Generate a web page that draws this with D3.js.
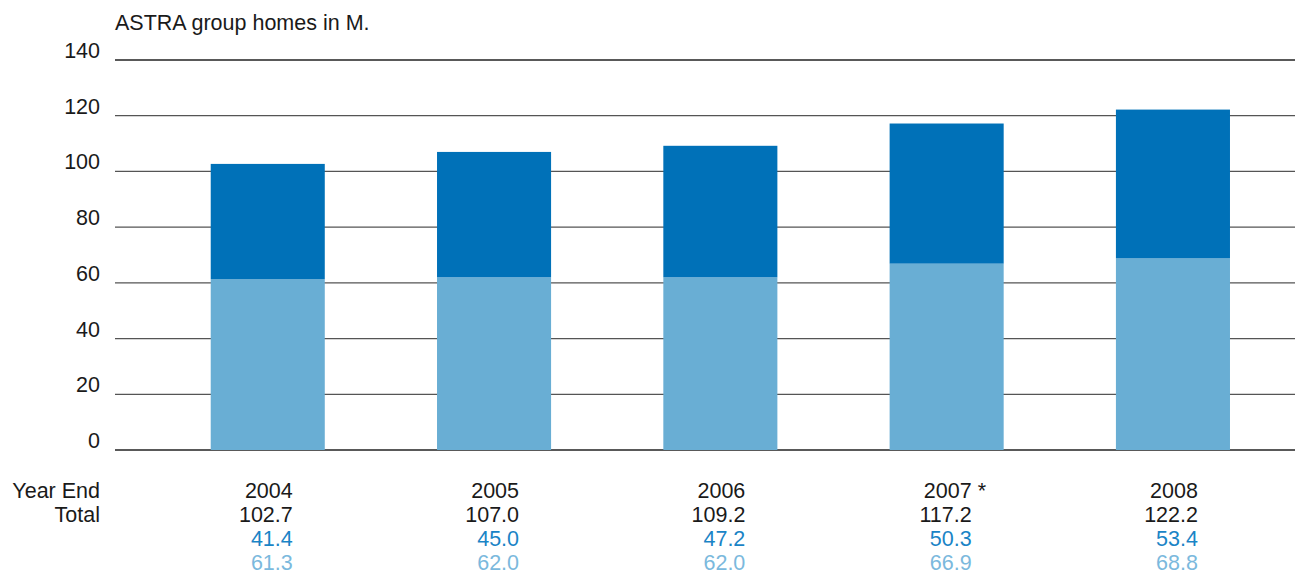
<!DOCTYPE html>
<html>
<head>
<meta charset="utf-8">
<script src="https://cdn.jsdelivr.net/npm/d3@7"></script>
<style>
  body { margin: 0; background: #fff; }
  text { font-family: "Liberation Sans", Arial, sans-serif; }
</style>
</head>
<body>
<div id="chart"></div>
<script>
// data
const years = ["2004", "2005", "2006", "2007", "2008"];
const yearNotes = ["", "", "", "*", ""];
const totals = ["102.7", "107.0", "109.2", "117.2", "122.2"];
const upperSeries = [41.4, 45.0, 47.2, 50.3, 53.4];   // dark blue
const lowerSeries = [61.3, 62.0, 62.0, 66.9, 68.8];   // light blue
const yTicks = [0, 20, 40, 60, 80, 100, 120, 140];

const width = 1295, height = 574;
const fontSize = 21.5;
const darkBlue = "#0071b8", lightBlue = "#69aed4";
const darkText = "#1a84c6", lightText = "#7bb9dd";

const svg = d3.select("#chart").append("svg")
    .attr("width", width)
    .attr("height", height);

const x = d3.scaleBand()
    .domain(years)
    .range([154.6, 1286.1])
    .paddingInner(0.496)
    .paddingOuter(0.248);

const y = d3.scaleLinear()
    .domain([0, 140])
    .range([450, 60]);

// gridlines + tick labels
const grid = svg.append("g");
grid.selectAll("line")
    .data(yTicks)
    .join("line")
    .attr("x1", 115)
    .attr("x2", width)
    .attr("y1", d => y(d))
    .attr("y2", d => y(d))
    .attr("stroke", d => (d === 0 || d === 140) ? "#222" : "#555")
    .attr("stroke-width", 1.3);

grid.selectAll("text")
    .data(yTicks)
    .join("text")
    .attr("x", 100)
    .attr("y", d => y(d) - 2)
    .attr("text-anchor", "end")
    .attr("font-size", fontSize)
    .attr("fill", "#1a1a1a")
    .text(d => d);

svg.append("text")
    .attr("x", 115)
    .attr("y", 30)
    .attr("font-size", fontSize)
    .attr("fill", "#1a1a1a")
    .text("ASTRA group homes in M.");

// stacked bars
const rows = years.map((yr, i) => ({ year: yr, low: lowerSeries[i], up: upperSeries[i] }));
const stack = d3.stack().keys(["low", "up"])(rows);
const colors = { low: lightBlue, up: darkBlue };

svg.append("g").selectAll("g")
    .data(stack)
    .join("g")
    .attr("fill", d => colors[d.key])
    .selectAll("rect")
    .data(d => d)
    .join("rect")
    .attr("x", d => x(d.data.year))
    .attr("width", x.bandwidth())
    .attr("y", d => y(d[1]))
    .attr("height", d => y(d[0]) - y(d[1]));

// table below the chart
const table = svg.append("g").attr("font-size", fontSize);
table.append("text").attr("x", 100).attr("y", 498).attr("text-anchor", "end")
    .attr("fill", "#1a1a1a").text("Year End");
table.append("text").attr("x", 100).attr("y", 522).attr("text-anchor", "end")
    .attr("fill", "#1a1a1a").text("Total");

const colX = yr => x(yr) + x.bandwidth() / 2 + 25;
const tableRows = [
    { vals: years, color: "#1a1a1a", y: 498 },
    { vals: totals, color: "#1a1a1a", y: 522 },
    { vals: upperSeries.map(v => v.toFixed(1)), color: darkText, y: 546 },
    { vals: lowerSeries.map(v => v.toFixed(1)), color: lightText, y: 570 }
];
tableRows.forEach(r => {
    table.append("g").selectAll("text")
        .data(r.vals)
        .join("text")
        .attr("x", (d, i) => colX(years[i]))
        .attr("y", r.y)
        .attr("text-anchor", "end")
        .attr("fill", r.color)
        .text(d => d);
});

table.append("g").selectAll("text")
    .data(yearNotes)
    .join("text")
    .attr("x", (d, i) => colX(years[i]) + 6)
    .attr("y", 498)
    .attr("fill", "#1a1a1a")
    .text(d => d);
</script>
</body>
</html>
